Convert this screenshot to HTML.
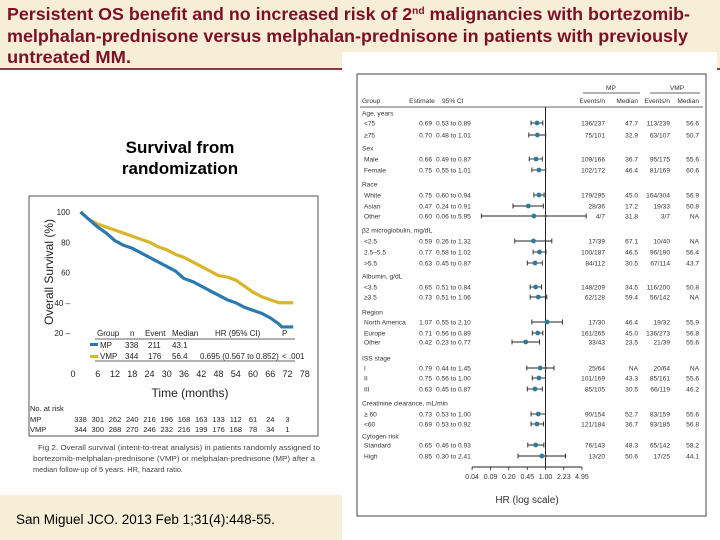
<!DOCTYPE html>
<html><head><meta charset="utf-8"><style>
body{margin:0;width:720px;height:540px;overflow:hidden;background:#fff;font-family:"Liberation Sans",sans-serif;position:relative}
.title{position:absolute;left:0;top:0;width:720px;height:68px;background:#f6eed6;border-bottom:2px solid #8b3a45}
.cite{position:absolute;left:0;top:495px;width:342px;height:45px;background:#f6eed6}
.cite span{position:absolute;left:16px;top:17px;font-size:13.5px;color:#000}
.sub{position:absolute;left:90px;top:137px;width:180px;text-align:center;font-weight:bold;font-size:17px;line-height:21px}
.fig{position:absolute;left:342px;top:52px;width:375px;height:488px;background:#fff}
svg text{font-family:"Liberation Sans",sans-serif}
</style></head><body>
<div class="title">
<svg width="720" height="68" style="position:absolute;left:0;top:0">
<text x="7" y="20" font-size="17.5" font-weight="bold" fill="#7c1026" textLength="683" lengthAdjust="spacingAndGlyphs">Persistent OS benefit and no increased risk of 2<tspan dy="-6" font-size="10">nd</tspan><tspan dy="6"> malignancies with bortezomib-</tspan></text>
<text x="7" y="42" font-size="17.5" font-weight="bold" fill="#7c1026" textLength="681" lengthAdjust="spacingAndGlyphs">melphalan-prednisone versus melphalan-prednisone in patients with previously</text>
<text x="7" y="63" font-size="17.5" font-weight="bold" fill="#7c1026" textLength="124" lengthAdjust="spacingAndGlyphs">untreated MM.</text>
</svg></div>
<div class="sub">Survival from randomization</div>
<div class="cite"><span>San Miguel JCO. 2013 Feb 1;31(4):448-55.</span></div>
<div class="fig"></div>

<svg id="km" width="720" height="540" style="position:absolute;left:0;top:0"></svg>
<svg id="fp" width="720" height="540" style="position:absolute;left:0;top:0"></svg>

<script>
// ---- KM data ----
const kmTicks=[0,6,12,18,24,30,36,42,48,54,60,66,72,78];
const yTicks=[20,40,60,80,100];
const mpT=[0,3,6,9,12,15,18,21,24,27,30,33,36,39,42,45,48,51,54,57,60,63,66,69,70,74];
const mpS=[100,95,90,86,81,78,76,73,70,67,64,61,56,54,51,48,45,42,40,37,35,33,30,26,24,24];
const vmpT=[0,3,6,9,12,15,18,21,24,27,30,33,36,39,42,45,48,51,54,57,60,63,66,69,74];
const vmpS=[100,95,92,90,88,86,84,82,80,77,75,72,70,67,64,61,58,57,55,51,47,44,42,40,40];
const riskMP=[338,301,262,240,216,196,168,163,133,112,61,24,3];
const riskVMP=[344,300,288,270,246,232,216,199,176,168,78,34,1];

// ---- Forest data ----
const fLabels=["Age, years","<75","≥75","Sex","Male","Female","Race","White","Asian","Other","β2 microglobulin, mg/dL","<2.5","2.5–5.5",">5.5","Albumin, g/dL","<3.5","≥3.5","Region","North America","Europe","Other","ISS stage","I","II","III","Creatinine clearance, mL/min","≥ 60","<60","Cytogen risk","Standard","High"];
const fEst=[null,0.69,0.70,null,0.66,0.75,null,0.75,0.47,0.60,null,0.59,0.77,0.63,null,0.65,0.73,null,1.07,0.71,0.42,null,0.79,0.75,0.63,null,0.73,0.69,null,0.65,0.85];
const fLo=[null,0.53,0.48,null,0.49,0.55,null,0.60,0.24,0.06,null,0.26,0.58,0.45,null,0.51,0.51,null,0.55,0.56,0.23,null,0.44,0.56,0.45,null,0.53,0.53,null,0.46,0.30];
const fHi=[null,0.89,1.01,null,0.87,1.01,null,0.94,0.91,5.95,null,1.32,1.02,0.87,null,0.84,1.06,null,2.10,0.89,0.77,null,1.45,1.00,0.87,null,1.00,0.92,null,0.93,2.41];
const fMPev=["","136/237","75/101","","109/166","102/172","","179/295","28/36","4/7","","17/39","100/187","84/112","","148/209","62/128","","17/30","161/265","33/43","","25/64","101/169","85/105","","90/154","121/184","","76/143","13/20"];
const fMPmed=["","47.7","32.9","","36.7","46.4","","45.0","17.2","31.8","","67.1","46.5","30.5","","34.5","59.4","","46.4","45.0","23.5","","NA","43.3","30.5","","52.7","36.7","","48.3","50.6"];
const fVMPev=["","113/239","63/107","","95/175","81/169","","164/304","19/33","3/7","","10/40","96/190","67/114","","116/200","56/142","","19/32","136/273","21/39","","20/64","85/161","66/119","","83/159","93/185","","65/142","17/25"];
const fVMPmed=["","56.6","50.7","","55.6","60.6","","56.9","50.8","NA","","NA","56.4","43.7","","50.8","NA","","55.9","56.8","55.6","","NA","55.6","46.2","","55.6","56.8","","58.2","44.1"];
const fRowY=[113,123,135,148,159,170,184,195,206,216,230,241,252,263,276,287,297,312,322,333,342,358,368,378,389,403,414,424,436,445,456];
const hrTicks=[0.04,0.09,0.20,0.45,1.00,2.23,4.95];

const NS="http://www.w3.org/2000/svg";
function mk(p,tag,a,txt){const e=document.createElementNS(NS,tag);for(const k in a)e.setAttribute(k,a[k]);if(txt!==undefined)e.textContent=txt;p.appendChild(e);return e;}

// ---- KM chart ----
const km=document.getElementById('km');
const X=t=>80.5+t*2.875, Y=v=>333-(v-20)*1.5125;
let e=mk(km,'rect',{x:29,y:196,width:289,height:240,fill:'#fff',stroke:'#555','stroke-width':1});

yTicks.forEach(v=>{const t=mk(km,'text',{x:70,y:Y(v)+3,'font-size':8,'text-anchor':'end',fill:'#222'},v+(v<60?' –':''));
});
kmTicks.forEach(v=>{const t=mk(km,'text',{x:v===0?73:X(v),y:377,'font-size':9,'text-anchor':'middle',fill:'#222'},v);
});
e=mk(km,'text',{x:0,y:0,'font-size':12,'text-anchor':'middle',fill:'#222',transform:'translate(53,272) rotate(-90)'},'Overall Survival (%)');

e=mk(km,'text',{x:190,y:397,'font-size':12,'text-anchor':'middle',fill:'#222'},'Time (months)');

function poly(T,S){let d='M'+X(T[0])+','+Y(S[0]);for(let i=1;i<T.length;i++){d+=' L'+X(T[i])+','+Y(S[i]);}return d;}
e=mk(km,'path',{d:poly(vmpT,vmpS),fill:'none',stroke:'#d9b52a','stroke-width':3.2,'stroke-linejoin':'round'});

e=mk(km,'path',{d:poly(mpT,mpS),fill:'none',stroke:'#2a7ab0','stroke-width':3.2,'stroke-linejoin':'round'});

// legend table
const lg=[[97,'Group'],[130,'n'],[145,'Event'],[172,'Median'],[215,'HR (95% CI)'],[282,'P']];
lg.forEach(a=>{const t=mk(km,'text',{x:a[0],y:336,'font-size':8,fill:'#222'},a[1]);});
mk(km,'line',{x1:95,x2:295,y1:339,y2:339,stroke:'#333','stroke-width':0.8});
mk(km,'line',{x1:95,x2:295,y1:361,y2:361,stroke:'#333','stroke-width':0.8});
e=mk(km,'rect',{x:90,y:343,width:8,height:3,fill:'#2a7ab0'});
e=mk(km,'rect',{x:90,y:355,width:8,height:3,fill:'#d9b52a'});
[[100,'MP'],[125,'338'],[148,'211'],[172,'43.1']].forEach(a=>{const t=mk(km,'text',{x:a[0],y:348,'font-size':8,fill:'#222'},a[1]);});
[[100,'VMP'],[125,'344'],[148,'176'],[172,'56.4'],[200,'0.695 (0.567 to 0.852)'],[282,'< .001']].forEach(a=>{const t=mk(km,'text',{x:a[0],y:359,'font-size':8,fill:'#222'},a[1]);});
// at risk
e=mk(km,'text',{x:30,y:411,'font-size':7.5,fill:'#222'},'No. at risk');
e=mk(km,'text',{x:30,y:422,'font-size':7.5,fill:'#222'},'MP');
e=mk(km,'text',{x:30,y:432,'font-size':7.5,fill:'#222'},'VMP');
riskMP.forEach((v,i)=>{const t=mk(km,'text',{x:X(kmTicks[i]),y:422,'font-size':7.5,'text-anchor':'middle',fill:'#222'},v);});
riskVMP.forEach((v,i)=>{const t=mk(km,'text',{x:X(kmTicks[i]),y:432,'font-size':7.5,'text-anchor':'middle',fill:'#222'},v);});
['Fig 2. Overall survival (intent-to-treat analysis) in patients randomly assigned to','bortezomib-melphalan-prednisone (VMP) or melphalan-prednisone (MP) after a','median follow-up of 5 years. HR, hazard ratio.'].forEach((s,i)=>{const t=mk(km,'text',{x:i?33:38,y:450+i*11,'font-size':7.3,fill:'#444',textLength:i==2?150:282,lengthAdjust:'spacingAndGlyphs'},s);});

// ---- Forest plot ----
const fp=document.getElementById('fp');
const lx=v=>545.5+Math.log(v)*22.8;
e=mk(fp,'rect',{x:357,y:74,width:349,height:442,fill:'none',stroke:'#444','stroke-width':1});

const fs=6.6,fc='#333';
[[362,'Group','start'],[422,'Estimate','middle'],[442,'95% CI','start'],[605,'Events/n','end'],[638,'Median','end'],[670,'Events/n','end'],[699,'Median','end']].forEach(a=>{const t=mk(fp,'text',{x:a[0],y:103,'font-size':fs,'text-anchor':a[2],fill:fc},a[1]);});
e=mk(fp,'text',{x:611,y:90,'font-size':fs,'text-anchor':'middle',fill:fc},'MP');
e=mk(fp,'text',{x:677,y:90,'font-size':fs,'text-anchor':'middle',fill:fc},'VMP');
mk(fp,'line',{x1:583,x2:640,y1:93,y2:93,stroke:'#333','stroke-width':0.7});
mk(fp,'line',{x1:650,x2:700,y1:93,y2:93,stroke:'#333','stroke-width':0.7});
mk(fp,'line',{x1:360,x2:703,y1:107,y2:107,stroke:'#333','stroke-width':0.7});
e=mk(fp,'line',{x1:lx(1),x2:lx(1),y1:107,y2:467,stroke:'#222','stroke-width':1});
fLabels.forEach((l,i)=>{const y=fRowY[i];const head=fEst[i]===null;
 let t=mk(fp,'text',{x:head?362:364,y:y+2.5,'font-size':fs,fill:fc},l);
 if(head)return;
 t=mk(fp,'text',{x:432,y:y+2.5,'font-size':fs,'text-anchor':'end',fill:fc},fEst[i].toFixed(2));
 t=mk(fp,'text',{x:436,y:y+2.5,'font-size':fs,fill:fc},fLo[i].toFixed(2)+' to '+fHi[i].toFixed(2));
 t=mk(fp,'text',{x:605,y:y+2.5,'font-size':fs,'text-anchor':'end',fill:fc},fMPev[i]);
 t=mk(fp,'text',{x:638,y:y+2.5,'font-size':fs,'text-anchor':'end',fill:fc},fMPmed[i]);
 t=mk(fp,'text',{x:670,y:y+2.5,'font-size':fs,'text-anchor':'end',fill:fc},fVMPev[i]);
 t=mk(fp,'text',{x:699,y:y+2.5,'font-size':fs,'text-anchor':'end',fill:fc},fVMPmed[i]);
 t=mk(fp,'line',{x1:lx(fLo[i]),x2:lx(fHi[i]),y1:y,y2:y,stroke:'#222','stroke-width':0.9});
 mk(fp,'line',{x1:lx(fLo[i]),x2:lx(fLo[i]),y1:y-2.5,y2:y+2.5,stroke:'#222','stroke-width':0.9});
 mk(fp,'line',{x1:lx(fHi[i]),x2:lx(fHi[i]),y1:y-2.5,y2:y+2.5,stroke:'#222','stroke-width':0.9});
 t=mk(fp,'circle',{cx:lx(fEst[i]),cy:y,r:2.4,fill:'#2d7a9a'});
});
mk(fp,'line',{x1:lx(0.04),x2:lx(4.95),y1:467,y2:467,stroke:'#222','stroke-width':1});
hrTicks.forEach(v=>{mk(fp,'line',{x1:lx(v),x2:lx(v),y1:467,y2:470,stroke:'#222','stroke-width':0.8});
 const t=mk(fp,'text',{x:lx(v),y:479,'font-size':7,'text-anchor':'middle',fill:fc},v.toFixed(2));});
e=mk(fp,'text',{x:527,y:503,'font-size':10,'text-anchor':'middle',fill:fc},'HR (log scale)');
</script>
</body></html>
